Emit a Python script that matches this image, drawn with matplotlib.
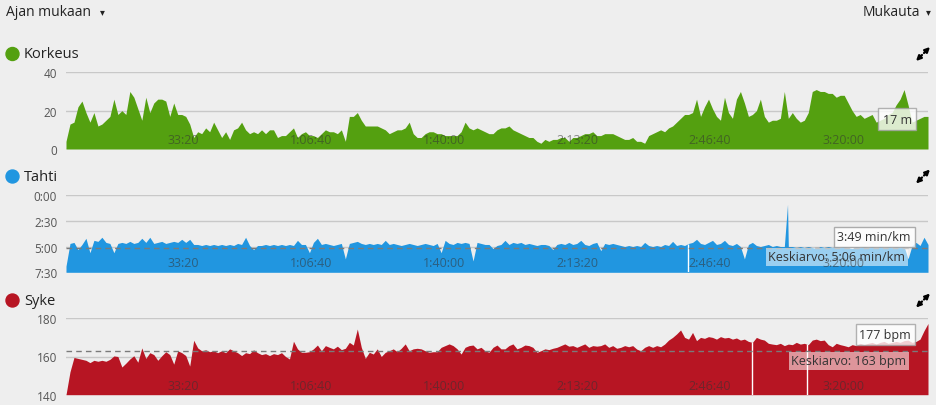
import numpy as np
import matplotlib
matplotlib.use("Agg")
import matplotlib.pyplot as plt
from matplotlib.patches import Ellipse

plt.rcParams['font.family'] = ['Open Sans', 'DejaVu Sans']

# time axis (minutes from start) tick positions and labels
tick_min = [33.333, 66.667, 100.0, 133.333, 166.667, 200.0]
tick_lbl = ['33:20', '1:06:40', '1:40:00', '2:13:20', '2:46:40', '3:20:00']

# Korkeus (m), one value per minute
elev = [4, 13, 14, 22, 25, 19, 14, 19, 12, 13,
        15, 17, 26, 18, 20, 18, 30, 27, 21, 15,
        27, 19, 24, 26, 26, 25, 17, 24, 18, 18,
        17, 13, 6, 9, 8, 11, 9, 14, 10, 6,
        9, 5, 10, 11, 14, 10, 8, 9, 8, 10,
        8, 10, 10, 6, 7, 7, 9, 11, 6, 8,
        9, 7, 7, 6, 8, 10, 9, 9, 8, 10,
        4, 17, 17, 19, 15, 12, 12, 12, 12, 11,
        10, 8, 9, 10, 10, 11, 14, 8, 6, 6,
        8, 9, 9, 8, 8, 7, 7, 7, 7, 9,
        14, 11, 10, 11, 10, 9, 8, 8, 10, 11,
        11, 12, 10, 9, 8, 7, 6, 6, 4, 3,
        5, 4, 5, 5, 6, 6, 4, 6, 6, 7,
        8, 8, 9, 7, 7, 8, 8, 8, 7, 6,
        5, 5, 6, 4, 4, 3, 7, 8, 9, 10,
        9, 11, 12, 14, 16, 18, 18, 19, 26, 17,
        22, 26, 21, 17, 15, 27, 19, 16, 26, 30,
        24, 17, 18, 20, 26, 17, 14, 15, 15, 16,
        30, 16, 19, 16, 14, 15, 19, 30, 31, 30,
        30, 29, 29, 27, 28, 28, 24, 20, 17, 18,
        16, 17, 18, 14, 15, 16, 18, 19, 23, 26,
        31, 23, 14, 15, 16, 17, 17]

# Tahti (min/km), one value per minute
pace = [6.9, 4.7, 4.6, 5.3, 4.8, 4.2, 5.6, 4.4, 4.5, 4.1,
        4.6, 4.7, 5.6, 4.7, 4.6, 4.7, 4.5, 4.7, 4.6, 4.2,
        4.6, 4.1, 4.7, 4.6, 4.5, 4.7, 4.6, 4.5, 4.6, 4.3,
        4.6, 4.3, 4.8, 4.8, 4.9, 4.8, 4.9, 4.8, 4.9, 4.8,
        4.9, 4.8, 4.9, 4.7, 4.8, 4.1, 4.9, 5.3, 4.9, 4.9,
        4.8, 4.9, 4.8, 4.9, 4.8, 4.9, 4.8, 4.9, 4.4, 4.8,
        4.8, 5.6, 4.6, 4.2, 4.8, 4.7, 4.8, 4.9, 4.8, 4.7,
        6.2, 4.7, 4.6, 4.5, 4.7, 4.8, 4.7, 4.8, 4.7, 4.8,
        4.4, 4.8, 4.7, 4.8, 4.9, 4.8, 4.7, 4.8, 4.9, 4.8,
        4.7, 4.8, 4.9, 4.7, 5.6, 4.4, 4.7, 4.8, 4.6, 4.7,
        4.6, 4.7, 6.4, 4.6, 4.7, 4.8, 4.8, 5.2, 4.9, 4.8,
        4.4, 4.8, 4.6, 4.7, 4.6, 4.8, 4.7, 4.8, 4.9, 4.8,
        4.8, 4.9, 5.3, 4.8, 4.7, 4.8, 4.6, 4.8, 4.7, 4.4,
        4.8, 4.9, 4.7, 4.6, 5.4, 4.7, 4.8, 4.7, 4.8, 4.9,
        5.0, 4.9, 5.0, 4.9, 5.0, 4.6, 4.9, 5.0, 4.9, 5.0,
        4.8, 4.9, 4.5, 4.9, 4.8, 4.9, 4.7, 4.6, 4.3, 4.7,
        4.8, 4.6, 4.4, 4.8, 4.7, 4.4, 4.8, 4.9, 4.7, 5.0,
        6.2, 4.8, 4.6, 4.9, 5.0, 4.9, 4.8, 5.0, 4.9, 5.0,
        5.0, 5.0, 5.0, 5.1, 5.0, 5.1, 5.0, 5.1, 5.2, 5.0,
        5.1, 5.0, 5.1, 5.0, 5.1, 5.0, 5.1, 5.2, 5.0, 5.1,
        5.0, 5.1, 5.0, 5.1, 5.0, 5.1, 5.0, 5.1, 5.0, 5.1,
        5.0, 6.2, 4.9, 4.6, 4.9, 4.1, 4.8]
pace_spike_t = [180.8]
pace_spike_v = [0.9]
pace_gaps = [155.8]
pace_avg = 5.1   # 5:06

# Syke (bpm), one value per minute
hr = [140, 152, 159.5, 159, 158.5, 158, 156.8, 158, 157.5, 158,
      157.5, 158.5, 160.3, 160, 154.5, 156.5, 158.7, 160.4, 157, 164.5,
      159, 162, 161, 158, 160.4, 162.5, 161, 156, 163, 162,
      160.5, 155, 168.5, 164.5, 163, 163.5, 162.5, 163, 162, 163,
      162, 164, 163, 162, 160.5, 162, 161.5, 163.5, 162, 161,
      161.5, 160.5, 161.5, 161, 162, 160, 158.7, 168, 164, 162.2,
      162.2, 162.5, 164, 166, 163, 165.7, 164.8, 164, 165.4, 163.6,
      164.3, 167.4, 166, 174.4, 164.8, 159, 162.2, 161.3, 164, 160,
      162.2, 163, 164, 162.5, 164.3, 166.6, 163, 164, 164.3, 164,
      163, 162.2, 162.5, 162.5, 164.8, 165.7, 166.6, 165.7, 164, 161.3,
      164.8, 165.7, 166, 164, 164.8, 163, 162.2, 164.8, 166, 164,
      164, 165.7, 166.6, 164, 164.8, 166, 165.7, 164.8, 162.2, 163,
      164, 163.6, 164.3, 164.8, 165.7, 166.6, 165.4, 165.7, 164.8, 165.7,
      166.6, 164.8, 165.7, 165.4, 165.7, 166.6, 164.8, 165.7, 164.3, 164.8,
      165.7, 165.1, 165.7, 163.9, 163, 164.8, 165.7, 164.8, 165.7, 165.1,
      166.5, 168.6, 170, 171.8, 173.9, 170, 169.1, 172.6, 168.3, 170,
      169.5, 170.4, 170, 169.1, 170.4, 169.7, 170, 169.1, 169.7, 168.6,
      169.1, 167.9, 167.4, 170, 169.1, 168.6, 166.9, 166.5, 166.2, 166.9,
      165.7, 166.5, 166.2, 167.4, 166.5, 166.9, 166.2, 168.6, 169.1, 168.3,
      168.6, 166.2, 165.1, 166.9, 166.2, 165.7, 165.1, 166.2, 165.7, 166.9,
      166.2, 166.9, 167.4, 166.5, 167.4, 167.9, 166.9, 167.4, 167.9, 167.4,
      168.3, 168.6, 167.4, 167.9, 169.1, 173.5, 177.3]
hr_gaps = [171.8, 185.8]
hr_avg = 163

bg = '#eeeeee'
green = '#54a010'
blue = '#2196e0'
red = '#b71523'

W, H = 937, 406
fig = plt.figure(figsize=(W / 100, H / 100), dpi=100)
fig.patch.set_facecolor(bg)


def px_axes(top, bottom):
    # axes placed by pixel rows of the reference
    ax = fig.add_axes([66 / W, 1 - bottom / H, 862 / W, (bottom - top) / H])
    ax.set_facecolor('none')
    for s in ax.spines.values():
        s.set_visible(False)
    ax.set_axisbelow(True)
    ax.grid(axis='y', color='#c8c8c8', lw=1)
    ax.set_xlim(0, 216)
    ax.set_xticks([])
    ax.tick_params(axis='y', length=0, pad=6.3, labelsize=8.5, labelcolor='#555555')
    # time labels sit inside the plot, right-aligned on their tick
    for t, l in zip(tick_min, tick_lbl):
        ax.text(t, 0.04, l, transform=ax.get_xaxis_transform(), ha='right', va='bottom',
                fontsize=9, color='#333333', alpha=0.55, zorder=7)
    return ax


t = np.arange(len(elev))

# Korkeus
ax1 = px_axes(73.3, 150)
ax1.fill_between(t, 0, elev, color=green, lw=0, zorder=2)
ax1.set_ylim(0, 40)
ax1.set_yticks([0, 20, 40])
ax1.text(208.3, 15.6, '17 m', ha='center', va='center', fontsize=9, color='#333333', zorder=6,
         bbox=dict(boxstyle='square,pad=0.35', fc='white', ec='#a0a0a0', alpha=0.8, lw=1))

# Tahti
ax2 = px_axes(196, 273.3)
tp = np.insert(np.arange(len(pace)).astype(float), 181, pace_spike_t)
vp = np.insert(np.array(pace, dtype=float), 181, pace_spike_v)
ax2.fill_between(tp, 7.5, vp, color=blue, lw=0, zorder=2)
ax2.vlines(pace_gaps, 7.5, np.interp(pace_gaps, tp, vp), colors='white', lw=1, zorder=3)
ax2.axhline(pace_avg, color='#7a7a7a', lw=1, ls=(0, (4, 3)), zorder=4)
ax2.set_ylim(7.5, 0)
ax2.set_yticks([0, 2.5, 5, 7.5])
ax2.set_yticklabels(['0:00', '2:30', '5:00', '7:30'])
ax2.text(202.5, 4.07, '3:49 min/km', ha='center', va='center', fontsize=9, color='#333333', zorder=6,
         bbox=dict(boxstyle='square,pad=0.3', fc='white', ec='#a0a0a0', alpha=0.85, lw=1))
ax2.text(193.1, 5.97, 'Keskiarvo: 5:06 min/km', ha='center', va='center', fontsize=9,
         color='#333333', zorder=6,
         bbox=dict(boxstyle='square,pad=0.2', fc='white', ec='none', alpha=0.55))

# Syke
ax3 = px_axes(319.3, 395.7)
ax3.fill_between(t, 140, hr, color=red, lw=0, zorder=2)
ax3.vlines(hr_gaps, 140, np.interp(hr_gaps, t, hr), colors='white', lw=1, zorder=3)
ax3.axhline(hr_avg, color='#7a7a7a', lw=1, ls=(0, (4, 3)), zorder=4)
ax3.set_ylim(140, 180)
ax3.set_yticks([140, 160, 180])
ax3.text(205.3, 171.5, '177 bpm', ha='center', va='center', fontsize=9, color='#333333', zorder=6,
         bbox=dict(boxstyle='square,pad=0.3', fc='white', ec='#a0a0a0', alpha=0.8, lw=1))
ax3.text(196.1, 157.9, 'Keskiarvo: 163 bpm', ha='center', va='center', fontsize=9,
         color='#333333', zorder=6,
         bbox=dict(boxstyle='square,pad=0.2', fc='white', ec='none', alpha=0.55))

# header
fig.text(6 / W, 1 - 12 / H, 'Ajan mukaan', fontsize=10, color='#222222', va='center')
fig.text(102 / W, 1 - 13 / H, '\u25be', fontsize=7, color='#222222', va='center', ha='center')
fig.text(920 / W, 1 - 12 / H, 'Mukauta', fontsize=10, color='#222222', va='center', ha='right')
fig.text(928 / W, 1 - 13 / H, '\u25be', fontsize=7, color='#222222', va='center', ha='center')

# panel titles with colour dots and expand icons
for name, col, cy in [('Korkeus', green, 55), ('Tahti', blue, 177.5), ('Syke', red, 301.5)]:
    fig.add_artist(Ellipse((12.5 / W, 1 - cy / H), 13 / W, 13 / H,
                           transform=fig.transFigure, color=col))
    fig.text(24 / W, 1 - cy / H, name, fontsize=10.5, color='#222222', va='center')
    y = H - cy
    for tip, tail in [((930, y + 7), (924, y + 1)), ((916, y - 7), (922, y - 1))]:
        ax1.annotate('', xy=tip, xytext=tail, xycoords='figure pixels', textcoords='figure pixels',
                     annotation_clip=False,
                     arrowprops=dict(arrowstyle='-|>', color='black', lw=1.6,
                                     mutation_scale=7, shrinkA=0, shrinkB=0))

plt.savefig('out.png', dpi=100, facecolor=bg)
